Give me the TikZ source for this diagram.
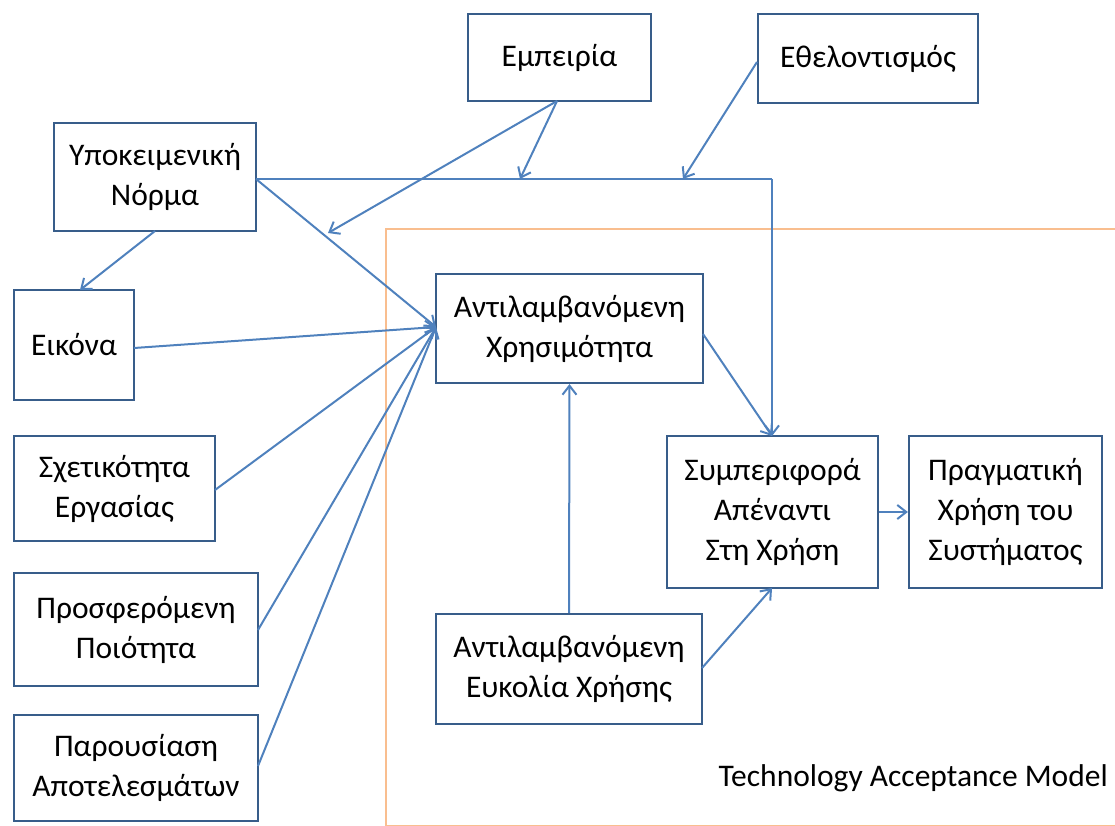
\documentclass[tikz,border=0pt]{standalone}
\usepackage{fontspec}
\setmainfont{Carlito}
\usetikzlibrary{arrows.meta}
\definecolor{lineblue}{RGB}{79,129,189}
\definecolor{boxblue}{RGB}{56,93,138}
\definecolor{tamorange}{RGB}{249,190,143}
\begin{document}
\begin{tikzpicture}[x=1pt,y=-1pt,
  box/.style={draw=boxblue, line width=2.2pt, fill=white, inner sep=0pt, align=center,
    font=\fontsize{31.5}{40}\selectfont},
  conn/.style={draw=lineblue, line width=2pt, -{Straight Barb[length=9pt,width=14pt,line width=2pt]}},
  plain/.style={draw=lineblue, line width=2pt}]
\useasboundingbox (0,0) rectangle (1115,826);
\draw[tamorange, line width=1.6pt] (386,229) rectangle (1120,826);
\node[box, minimum width=183pt, minimum height=87pt] (emp) at (559.5,57.5) {Εμπειρία};
\node[box, minimum width=220pt, minimum height=89pt] (eth) at (868,58.5) {Εθελοντισμός};
\node[box, minimum width=202pt, minimum height=108pt] (ypo) at (155,177) {Υποκειμενική\\Νόρμα};
\node[box, minimum width=120pt, minimum height=110pt] (eik) at (74,345) {Εικόνα};
\node[box, minimum width=201pt, minimum height=105pt] (sxe) at (114.5,488.5) {Σχετικότητα\\Εργασίας};
\node[box, minimum width=244pt, minimum height=113pt] (pro) at (136,629.5) {Προσφερόμενη\\Ποιότητα};
\node[box, minimum width=244pt, minimum height=106pt] (par) at (136,768) {Παρουσίαση\\Αποτελεσμάτων};
\node[box, minimum width=267pt, minimum height=109pt] (xrh) at (569.5,328.5) {Αντιλαμβανόμενη\\Χρησιμότητα};
\node[box, minimum width=211pt, minimum height=152pt] (sym) at (772.5,512) {Συμπεριφορά\\Απέναντι\\Στη Χρήση};
\node[box, minimum width=193pt, minimum height=152pt] (pra) at (1005.5,512) {Πραγματική\\Χρήση του\\Συστήματος};
\node[box, minimum width=266pt, minimum height=110pt] (euk) at (569,669) {Αντιλαμβανόμενη\\Ευκολία Χρήσης};
\node[anchor=east, inner sep=0pt, font=\fontsize{31.5}{36}\selectfont] (tam) at (1108,778) {Technology Acceptance Model};
\coordinate (ypoR) at (256,179);
\coordinate (j) at (772,179);
\coordinate (e1) at (520,179);
\coordinate (e2) at (683,179);
\coordinate (e3) at (328,233);
\coordinate (empB) at (557,101);
\coordinate (xrhL) at (436,327);
\draw[plain] (ypoR) -- (j);
\draw[conn] (j) -- (772,436);
\draw[conn] (empB) -- (e1);
\draw[conn] (empB) -- (e3);
\draw[conn] (757,62) -- (e2);
\draw[conn] (ypoR) -- (xrhL);
\draw[conn] (155,231) -- (80,290);
\draw[conn] (134,348) -- (xrhL);
\draw[conn] (215,490) -- (xrhL);
\draw[conn] (258,630) -- (xrhL);
\draw[conn] (258,766) -- (xrhL);
\draw[conn] (703,334) -- (772,436);
\draw[conn] (euk.north) -- (xrh.south);
\draw[conn] (702,668) -- (772,588);
\draw[conn] (sym.east) -- (pra.west);
\end{tikzpicture}
\end{document}
